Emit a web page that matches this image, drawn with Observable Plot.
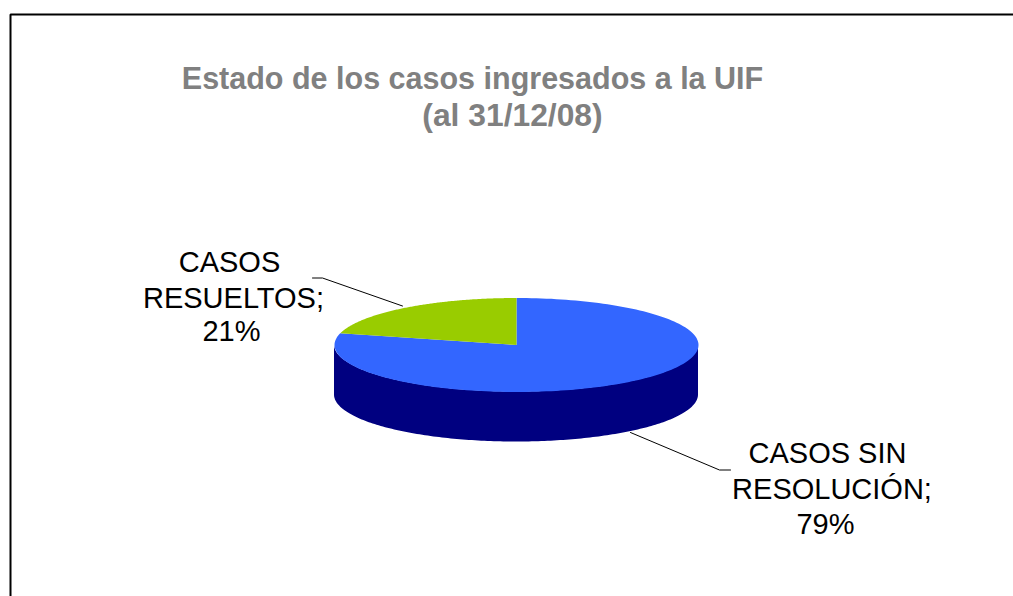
<!DOCTYPE html>
<html><head><meta charset="utf-8">
<script src="https://cdn.jsdelivr.net/npm/d3@7"></script>
<script src="https://cdn.jsdelivr.net/npm/@observablehq/plot@0.6"></script>
<style>html,body{margin:0;padding:0;background:#fff}svg{display:block}</style>
</head><body><div id="chart"></div>
<script>
const categories = ["CASOS SIN RESOLUCIÓN", "CASOS RESUELTOS"];
const shares = [79, 21];
const colors = ["#3366FF", "#99CC00"];
const sideColor = "#000080";
const titleLines = ["Estado de los casos ingresados a la UIF", "(al 31/12/08)"];

// pie geometry, in chart units (the x and y scales map them to the page)
const cx = 516, cy = 344.5, rx = 182, ry = 47, depth = 50;
const steps = 180;
let start = 0;
const slices = categories.map((c, i) => {
  const a0 = start, a1 = start + shares[i] / 100 * 2 * Math.PI;
  start = a1;
  const pts = [{x: cx, y: cy}];
  for (let k = 0; k <= steps; k++) {
    const a = a0 + (a1 - a0) * k / steps;
    pts.push({x: cx + rx * Math.sin(a), y: cy - ry * Math.cos(a)});
  }
  pts.push({x: cx, y: cy});
  return {c, color: colors[i], pts};
});
const rim = d3.range(steps + 1).map(k => {
  const t = -Math.PI / 2 + Math.PI * k / steps;
  const x = cx + rx * Math.sin(t), y = cy + ry * Math.cos(t);
  return {x, y1: y, y2: y + depth};
});

const labelRows = [
  {t: "CASOS", x: 229, y: 262.5},
  {t: "RESUELTOS;", x: 233, y: 298.5},
  {t: "21%", x: 231, y: 331},
  {t: "CASOS SIN", x: 827, y: 453.7},
  {t: "RESOLUCIÓN;", x: 831.5, y: 489.7},
  {t: "79%", x: 825, y: 524}
];
const leaders = [
  [{x: 402, y: 305.5}, {x: 322, y: 277.5}, {x: 312, y: 277.5}],
  [{x: 630, y: 432}, {x: 719, y: 469.5}, {x: 730, y: 469.5}]
];
const frame = [{x: 10, y: 596}, {x: 10, y: 14}, {x: 1013, y: 14}];

const plot = Plot.plot({
  width: 1013, height: 596,
  margin: 0,
  style: {background: "#fff", fontFamily: "Liberation Sans, Arial, sans-serif"},
  x: {domain: [0, 1013], range: [0, 1013], axis: null},
  y: {domain: [0, 596], range: [0, 596], axis: null},
  marks: [
    Plot.line(frame, {x: "x", y: "y", stroke: "#000", strokeWidth: 2, strokeLinejoin: "miter"}),
    Plot.areaY(rim, {x: "x", y1: "y1", y2: "y2", fill: sideColor}),
    ...slices.map(s => Plot.line(s.pts, {x: "x", y: "y", fill: s.color, stroke: "none"})),
    ...leaders.map(l => Plot.line(l, {x: "x", y: "y", stroke: "#000", strokeWidth: 1})),
    Plot.text([titleLines[0]], {x: () => 472, y: () => 78.5, text: d => d, fill: "#808080", fontSize: 30.5, fontWeight: "bold"}),
    Plot.text([titleLines[1]], {x: () => 512, y: () => 115, text: d => d, fill: "#808080", fontSize: 31.8, fontWeight: "bold"}),
    Plot.text(labelRows, {x: "x", y: "y", text: "t", fill: "#000", fontSize: 29})
  ]
});
document.getElementById("chart").appendChild(plot);
</script></body></html>
